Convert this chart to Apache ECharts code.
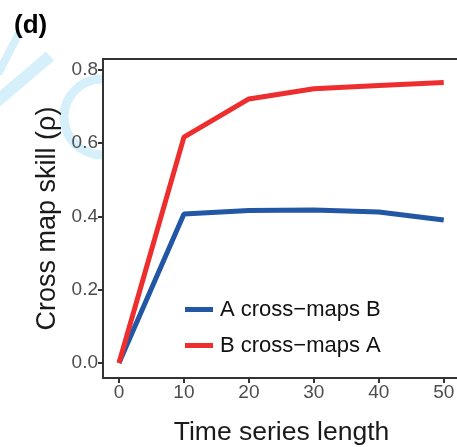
<!DOCTYPE html>
<html>
<head>
<meta charset="utf-8">
<script src="https://cdn.jsdelivr.net/npm/echarts@6/dist/echarts.min.js"></script>
<style>
  html, body { margin: 0; padding: 0; background: #fff; }
  #main { width: 457px; height: 447px; }
</style>
</head>
<body>
<div id="main"></div>
<script>
// data
var lengths = [0, 10, 20, 30, 40, 50];
var aMapsB = [0.0, 0.406, 0.416, 0.417, 0.412, 0.390];
var bMapsA = [0.0, 0.616, 0.720, 0.748, 0.757, 0.765];
var xTicks = [0, 10, 20, 30, 40, 50];
var yTicks = [0, 0.2, 0.4, 0.6, 0.8];

var myChart = echarts.init(document.getElementById('main'));

function pairs(xs, ys) {
    return xs.map(function (x, i) { return [x, ys[i]]; });
}

var fontFam = '"Liberation Sans", Arial, sans-serif';

option = {
    backgroundColor: '#fff',
    animation: false,
    title: {
        text: '(d)',
        left: 9,
        top: 8,
        textStyle: { fontFamily: fontFam, fontSize: 26, fontWeight: 'bold', color: '#000' }
    },
    // faint watermark behind the panel
    graphic: [
        { type: 'line', z: -10, shape: { x1: -2, y1: 74, x2: 19, y2: 33 },
          style: { stroke: '#d5effb', lineWidth: 8 } },
        { type: 'line', z: -10, shape: { x1: -4, y1: 102, x2: 50, y2: 56 },
          style: { stroke: '#d5effb', lineWidth: 12 } },
        { type: 'arc', z: -10, shape: { cx: 102, cy: 117, r: 38, startAngle: Math.PI / 2, endAngle: Math.PI * 1.5 },
          style: { stroke: '#d5effb', lineWidth: 9, fill: null } }
    ],
    grid: {
        left: 103,
        right: -3,
        top: 59,
        bottom: 69,
        outerBoundsMode: 'none',
        containLabel: false,
        show: true,
        backgroundColor: '#fff',
        borderColor: '#333',
        borderWidth: 2
    },
    legend: {
        orient: 'vertical',
        left: 185,
        top: 298,
        padding: 0,
        itemWidth: 28,
        itemHeight: 5,
        itemGap: 13,
        icon: 'rect',
        data: ['A cross\u2212maps B', 'B cross\u2212maps A'],
        textStyle: { fontFamily: fontFam, fontSize: 22, lineHeight: 23, color: '#111', padding: [0, 0, 0, 2] }
    },
    xAxis: {
        type: 'value',
        min: -2.46,
        max: 52.5,
        name: 'Time series length',
        nameLocation: 'middle',
        nameGap: 41,
        nameTextStyle: { fontFamily: fontFam, fontSize: 26.5, color: '#1a1a1a', verticalAlign: 'top' },
        splitLine: { show: false },
        axisLine: { onZero: false, lineStyle: { color: '#333', width: 2 } },
        axisTick: { length: 5, lineStyle: { color: '#333', width: 2 }, customValues: xTicks },
        axisLabel: { fontFamily: fontFam, fontSize: 19, color: '#4d4d4d', margin: 5, customValues: xTicks }
    },
    yAxis: {
        type: 'value',
        min: -0.041,
        max: 0.829,
        name: 'Cross map skill (\u03c1)',
        nameLocation: 'middle',
        nameGap: 42,
        nameTextStyle: { fontFamily: fontFam, fontSize: 27, color: '#1a1a1a' },
        splitLine: { show: false },
        axisLine: { onZero: false, lineStyle: { color: '#333', width: 2 } },
        axisTick: { length: 5, lineStyle: { color: '#333', width: 2 }, customValues: yTicks },
        axisLabel: {
            fontFamily: fontFam, fontSize: 19, color: '#4d4d4d', margin: 5, customValues: yTicks,
            formatter: function (v) { return v.toFixed(1); }
        }
    },
    series: [{
        name: 'A cross\u2212maps B',
        type: 'line',
        showSymbol: false,
        symbol: 'none',
        color: '#2257a5',
        lineStyle: { width: 5, color: '#2257a5' },
        data: pairs(lengths, aMapsB)
    }, {
        name: 'B cross\u2212maps A',
        type: 'line',
        showSymbol: false,
        symbol: 'none',
        color: '#ee2e2e',
        lineStyle: { width: 5, color: '#ee2e2e' },
        data: pairs(lengths, bMapsA)
    }]
};

myChart.setOption(option);
</script>
</body>
</html>
